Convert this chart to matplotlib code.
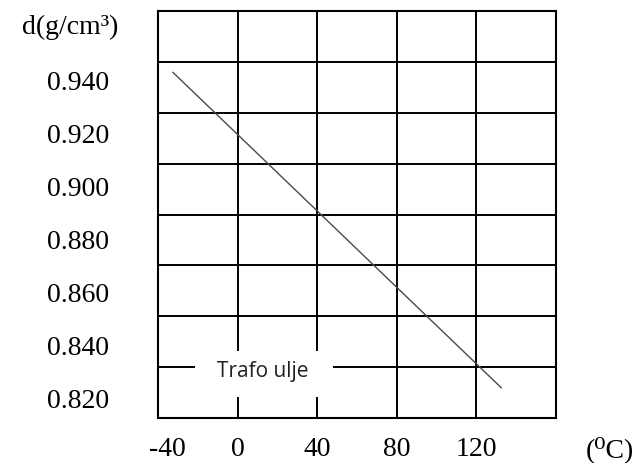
import numpy as np
import matplotlib
matplotlib.use("Agg")
import matplotlib.pyplot as plt
from matplotlib.transforms import ScaledTranslation
from matplotlib.patches import Rectangle

# Data
temps = [-32.5, 132.5]          # °C
density = [0.9425, 0.8235]      # g/cm3
x_ticks = [-40, 0, 40, 80, 120]
x_labels = ["-40", "0", "40", "80", "120"]
y_ticks = [0.940, 0.920, 0.900, 0.880, 0.860, 0.840, 0.820]
y_labels = ["0.940", "0.920", "0.900", "0.880", "0.860", "0.840", "0.820"]
series_name = "Trafo ulje"

serif = ["Liberation Serif", "DejaVu Serif"]
FS = 20

fig = plt.figure(figsize=(6.38, 4.64), dpi=100)
ax = fig.add_axes([158/638, 1-419/464, 398/638, 407/464])

ylo, yhi = 0.81208, 0.96566
ax.set_xlim(-40, 160)
ax.set_ylim(ylo, yhi)

ax.plot(temps, density, color="#4a4a4a", lw=1.0, zorder=3)

# grid
ax.set_xticks(x_ticks)
ax.set_xticklabels(x_labels, fontfamily=serif, fontsize=FS)
ax.set_yticks(y_ticks)
ax.set_yticklabels(y_labels, fontfamily=serif, fontsize=FS)
ax.set_yticks(np.linspace(ylo, yhi, 9)[1:-1], minor=True)
ax.grid(False)
ax.grid(axis="x", which="major", color="black", lw=1.4)
ax.grid(axis="y", which="minor", color="black", lw=1.4)
ax.tick_params(which="both", length=0)
ax.tick_params(axis="x", pad=13)
ax.tick_params(axis="y", pad=35)
for s in ax.spines.values():
    s.set_linewidth(1.5)
    s.set_color("black")

# shift -40 label slightly right like the reference
lab0 = ax.get_xticklabels()[0]
lab0.set_transform(lab0.get_transform() + ScaledTranslation(9/100, 0, fig.dpi_scale_trans))

# white mask behind series label (interrupts grid lines)
ax.add_patch(Rectangle((0.093, 0.0516), 0.3467, 0.113, transform=ax.transAxes,
                       fc="white", ec="none", zorder=2.5))
ax.text(0.2626, 0.1155, series_name, ha="center", va="center", fontsize=15,
        fontfamily=["Open Sans", "DejaVu Sans"], color="#222222", zorder=4,
        transform=ax.transAxes)

fig.text(70/638, 1-27/464, "d(g/cm³)", ha="center", va="center",
         fontfamily=serif, fontsize=FS)
fig.text(610/638, 1-450/464, "(⁰C)", ha="center", va="center",
         fontfamily=serif, fontsize=FS)

fig.savefig("out.png", dpi=100)
